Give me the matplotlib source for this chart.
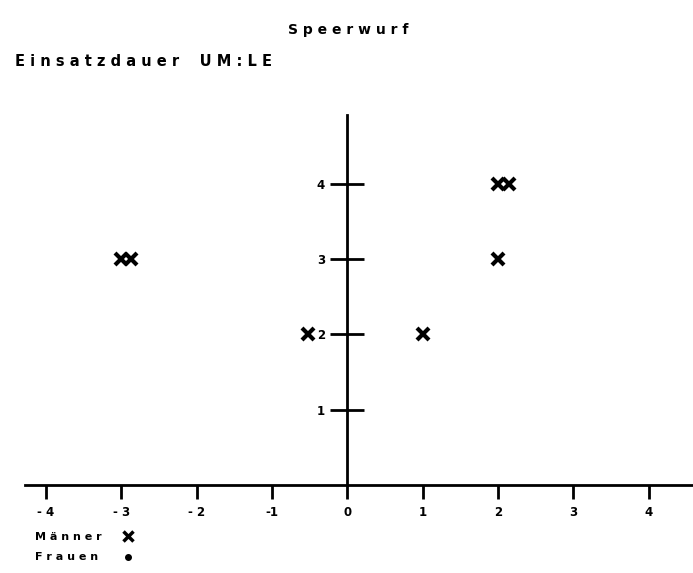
import matplotlib
matplotlib.use("Agg")
import matplotlib.pyplot as plt
from matplotlib.lines import Line2D

# Männer: Einsatzdauer UM (x) gegen LE (y), Doppelte leicht versetzt
maenner_x = [-3.0, -2.87, -0.52, 1.0, 2.0, 2.0, 2.15]
maenner_y = [3, 3, 2, 2, 3, 4, 4]

xticks = [-4, -3, -2, -1, 0, 1, 2, 3, 4]
xticklabels = ["- 4", "- 3", "- 2", "-1", "0", "1", "2", "3", "4"]
yticks = [1, 2, 3, 4]
yticklabels = ["1", "2", "3", "4"]

#_____________________________________________________________________________
def main():

    plt.rcParams["font.family"] = "DejaVu Sans"
    plt.rcParams["font.weight"] = "bold"

    W, H = 693, 573
    fig = plt.figure(figsize=(W/100, H/100), dpi=100)

    #axes box: left 25px, right 693px, y=0 at 485px, top at 115px
    ax = fig.add_axes([25/W, (H-485)/H, 668/W, 370/H])
    ax.set_xlim(-4.28, 4.59)
    ax.set_ylim(0, 4.91)

    for s in ["top", "right"]:
        ax.spines[s].set_visible(False)
    ax.spines["left"].set_position(("data", 0))
    ax.spines["left"].set_linewidth(2.0)
    ax.spines["bottom"].set_linewidth(2.0)

    ax.set_xticks(xticks)
    ax.set_xticklabels(xticklabels, fontsize=8.5, fontweight="bold")
    ax.set_yticks(yticks)
    ax.set_yticklabels(yticklabels, fontsize=8.5, fontweight="bold")
    ax.tick_params(axis="x", direction="out", length=10, width=2.0, pad=5)
    ax.tick_params(axis="y", direction="inout", length=24, width=2.0, pad=4)

    #data points
    ax.plot(maenner_x, maenner_y, ls="none", marker="x", ms=9, mew=3.0, color="black", clip_on=False)

    #titles
    fig.text(348/W, 1-30/H, "S p e e r w u r f", ha="center", va="center", fontsize=10, fontweight="bold")
    fig.text(15/W, 1-62/H, "E i n s a t z d a u e r    U M : L E", ha="left", va="center", fontsize=10.5, fontweight="bold")

    #legend below the axis
    fig.text(35/W, 1-537/H, "M ä n n e r", ha="left", va="center", fontsize=8, fontweight="bold")
    fig.text(35/W, 1-557/H, "F r a u e n", ha="left", va="center", fontsize=8, fontweight="bold")
    fig.add_artist(Line2D([128/W], [1-536/H], marker="x", ms=7, mew=2.5, color="black"))
    fig.add_artist(Line2D([128/W], [1-557/H], marker="o", ms=4, color="black"))

    fig.savefig("out.png", dpi=100)

#_____________________________________________________________________________
if __name__ == "__main__":

    main()
